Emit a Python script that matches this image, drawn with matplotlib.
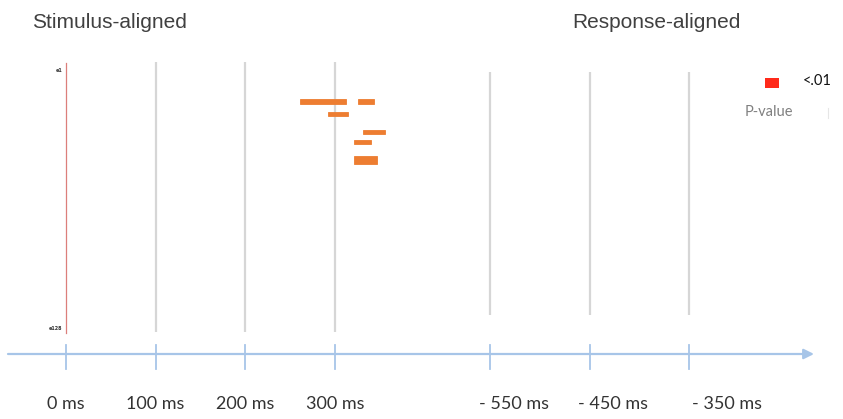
import matplotlib

matplotlib.use("Agg")

import matplotlib.pyplot as plt
from matplotlib.patches import Rectangle
from matplotlib.transforms import blended_transform_factory

# --- data -----------------------------------------------------------------
stim_ticks_ms = [0, 100, 200, 300]
stim_tick_labels = ["0 ms", "100 ms", "200 ms", "300 ms"]
resp_ticks_ms = [-550, -450, -350]
resp_tick_labels = ["- 550 ms", "- 450 ms", "- 350 ms"]

# significant clusters (p < .01): first electrode, last electrode, start ms, end ms
cluster_e_first = [16, 16, 22, 31, 36, 44]
cluster_e_last = [17, 17, 23, 32, 37, 47]
cluster_t_start = [261, 326, 292, 331, 321, 321]
cluster_t_end = [312, 343, 314, 356, 340, 347]

electrode_labels = ["e1", "e128"]
electrode_ticks = [1, 128]

# --- layout (pixels of an 843 x 419 canvas) ---------------------------------
W, H = 843, 419
STIM_CAL = ((0, 300), (66, 335))        # ms -> px
RESP_CAL = ((-550, -350), (490, 689))   # ms -> px
ELEC_CAL = ((1, 128), (70, 328))        # electrode -> px

GREY = "#d6d6d6"
AXIS_BLUE = "#a7c5e8"
ORANGE = "#ed7d31"


def _calibrated_axes(fig, px_span, x_cal, y_cal=None):
    left, right = px_span
    (d0, d1), (p0, p1) = x_cal
    k = (p1 - p0) / (d1 - d0)
    ax = fig.add_axes([left / W, 0, (right - left) / W, 1])
    ax.set_xlim(d0 + (left - p0) / k, d0 + (right - p0) / k)
    if y_cal is not None:
        (e0, e1), (q0, q1) = y_cal
        ky = (q1 - q0) / (e1 - e0)
        ax.set_ylim(e0 + (H - q0) / ky, e0 + (0 - q0) / ky)
    ax.set_axis_off()
    ax.patch.set_alpha(0)
    return ax


fig = plt.figure(figsize=(W / 100, H / 100), dpi=100)
bg = fig.add_axes([0, 0, 1, 1])
bg.set_xlim(0, W)
bg.set_ylim(H, 0)
bg.set_axis_off()

ax_s = _calibrated_axes(fig, (0, 420), STIM_CAL, ELEC_CAL)
ax_r = _calibrated_axes(fig, (420, W), RESP_CAL)
tr_s = blended_transform_factory(ax_s.transData, bg.transData)
tr_r = blended_transform_factory(ax_r.transData, bg.transData)

# vertical reference lines
for t in stim_ticks_ms[1:]:
    bg.plot([t, t], [62, 332], transform=tr_s, color=GREY, lw=1.6, solid_capstyle="butt")
bg.plot([0, 0], [63, 333], transform=tr_s, color="#dc7f7b", lw=0.9)
for t in resp_ticks_ms:
    bg.plot([t, t], [72, 315], transform=tr_r, color=GREY, lw=1.6, solid_capstyle="butt")

# significant clusters
for e0, e1, t0, t1 in zip(cluster_e_first, cluster_e_last, cluster_t_start, cluster_t_end):
    ax_s.add_patch(Rectangle((t0, e0 - 0.5), t1 - t0, e1 - e0 + 1,
                             facecolor=ORANGE, edgecolor=ORANGE, lw=0.6))

# electrode labels
for lab, e in zip(electrode_labels, electrode_ticks):
    ax_s.annotate(lab, xy=(0, e), xytext=(-4, 0), textcoords="offset pixels",
                  ha="right", va="center", fontsize=3.5, color="#333333",
                  fontweight="bold")

# time axis
bg.annotate("", xy=(814, 354), xytext=(8, 354),
            arrowprops=dict(arrowstyle="-|>,head_length=0.6,head_width=0.3",
                            color=AXIS_BLUE, lw=1.6, shrinkA=0, shrinkB=0))
for t, lab in zip(stim_ticks_ms, stim_tick_labels):
    bg.plot([t, t], [345, 369], transform=tr_s, color=AXIS_BLUE, lw=1.3)
    bg.text(t, 404, lab, transform=tr_s, ha="center", va="center",
            fontsize=13, family="Lato", color="#333333")
for t, lab, shift in zip(resp_ticks_ms, resp_tick_labels, [-11, -12, 3]):
    bg.plot([t, t], [345, 369], transform=tr_r, color=AXIS_BLUE, lw=1.3)
    bg.annotate(lab, xy=(t, 404), xycoords=tr_r, xytext=(shift, 0),
                textcoords="offset pixels", ha="left", va="center",
                fontsize=13, family="Lato", color="#333333")

# panel titles
bg.text(32, 22, "Stimulus-aligned", ha="left", va="center", fontsize=15,
        family="Liberation Sans", color="#404040")
bg.text(572, 22, "Response-aligned", ha="left", va="center", fontsize=15,
        family="Liberation Sans", color="#404040")

# p-value legend
bg.add_patch(Rectangle((765, 78), 14, 10, facecolor="#ff2a1a", edgecolor="none"))
bg.text(803, 81, "<.01", ha="left", va="center", fontsize=10.5,
        family="Lato", color="#111111")
bg.text(769, 112, "P-value", ha="center", va="center", fontsize=10.5,
        family="Lato", color="#808080")
bg.plot([828, 828], [108, 118], color="#e6e6e6", lw=0.8)

fig.savefig("out.png", dpi=100)
plt.close(fig)
